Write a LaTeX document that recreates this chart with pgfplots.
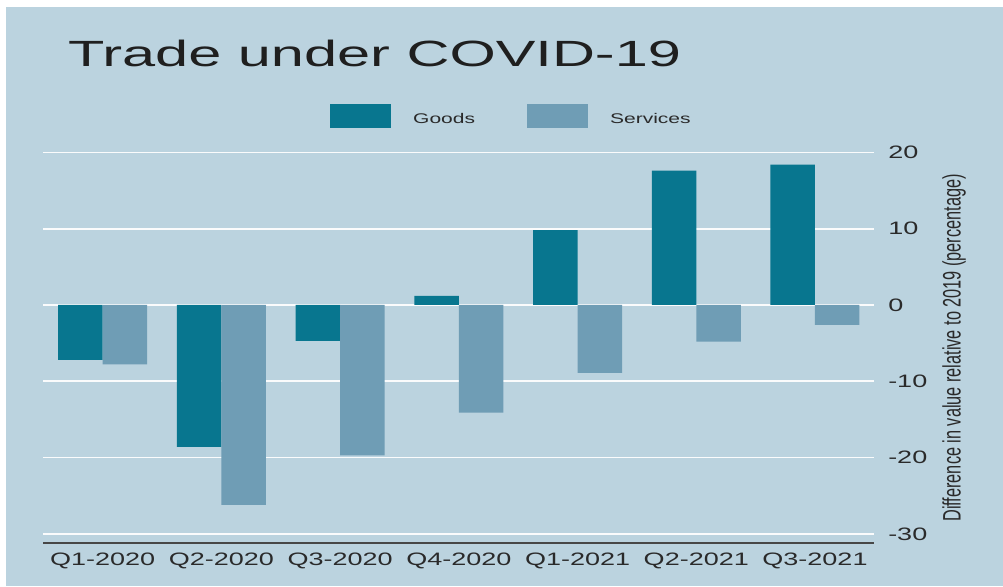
\documentclass[border=0pt]{standalone}
\usepackage{fontspec}
\setmainfont{Liberation Sans}[FakeStretch=1.5]
\newfontfamily\plainsans{Liberation Sans}
\newfontfamily\titlefont{Liberation Sans}[FakeStretch=1.63]
\usepackage{graphicx}
\usepackage{pgfplots}
\pgfplotsset{compat=1.18}

\definecolor{goods}{HTML}{08768F}
\definecolor{services}{HTML}{6F9DB5}
\definecolor{panel}{HTML}{BBD3DF}
\definecolor{txt}{HTML}{2A2A2A}

\begin{document}
\begin{tikzpicture}
% page and panel (1pt = 1px of the reference)
\fill[white] (-43.35pt,-43pt) rectangle (959.65pt,543pt);
\fill[panel] (-37.35pt,-43pt) rectangle (959.65pt,536pt);
\begin{axis}[
    at={(0,0)}, anchor=south west,
    scale only axis, width=831pt, height=398.2pt,
    xmin=-0.5, xmax=6.5, ymin=-31.2, ymax=21,
    ybar=0pt, bar width=44.5pt,
    axis x line*=bottom, axis y line*=right,
    x axis line style={draw=black!72, line width=1.3pt, -},
    y axis line style={draw=none},
    major tick length=0pt,
    xtick={0,...,6},
    xticklabels={Q1-2020,Q2-2020,Q3-2020,Q4-2020,Q1-2021,Q2-2021,Q3-2021},
    ytick={-30,-20,...,20},
    /pgf/number format/assume math mode=true,
    ymajorgrids, grid style={white!92!panel, line width=1.6pt},
    xticklabel style={anchor=north, inner sep=0pt, yshift=-10pt,
        font=\fontsize{18}{20}\selectfont, text=txt},
    yticklabel style={anchor=west, inner sep=0pt, xshift=13.7pt,
        font=\fontsize{18}{20}\selectfont, text=txt},
    title={Trade under COVID-19},
    title style={at={(rel axis cs:0,1)}, anchor=base west, inner sep=0pt,
        xshift=24.65pt, yshift=72.5pt,
        font=\titlefont\fontsize{36.5}{40}\selectfont, text=black!88},
    ylabel={\scalebox{1}[1.55]{\plainsans Difference in value relative to 2019 (percentage)}},
    every axis y label/.style={at={(rel axis cs:1,0.5)}, xshift=79.7pt, yshift=-4pt,
        rotate=90, anchor=center, inner sep=0pt,
        font=\fontsize{16.3}{18}\selectfont, text=txt},
    legend columns=2,
    legend image code/.code={\fill[#1] (0pt,-9pt) rectangle (61pt,15pt);},
    legend style={at={(rel axis cs:0,1)}, anchor=west,
        xshift=286.65pt, yshift=28.8pt,
        draw=none, fill=none, inner sep=0pt,
        nodes={inner sep=0pt},
        font=\fontsize{14}{16}\selectfont, text=txt,
        /tikz/every odd column/.append style={column sep=22pt},
        /tikz/every even column/.append style={column sep=52pt}},
]
\addplot[fill=goods, draw=none] coordinates {
    (0,-7.2) (1,-18.6) (2,-4.7) (3,1.2) (4,9.8) (5,17.6) (6,18.4)};
\addplot[fill=services, draw=none] coordinates {
    (0,-7.8) (1,-26.2) (2,-19.7) (3,-14.1) (4,-8.9) (5,-4.8) (6,-2.6)};
\legend{Goods, Services}
\end{axis}
\pgfresetboundingbox
\useasboundingbox (-43.35pt,-43pt) rectangle (959.65pt,543pt);
\end{tikzpicture}
\end{document}
